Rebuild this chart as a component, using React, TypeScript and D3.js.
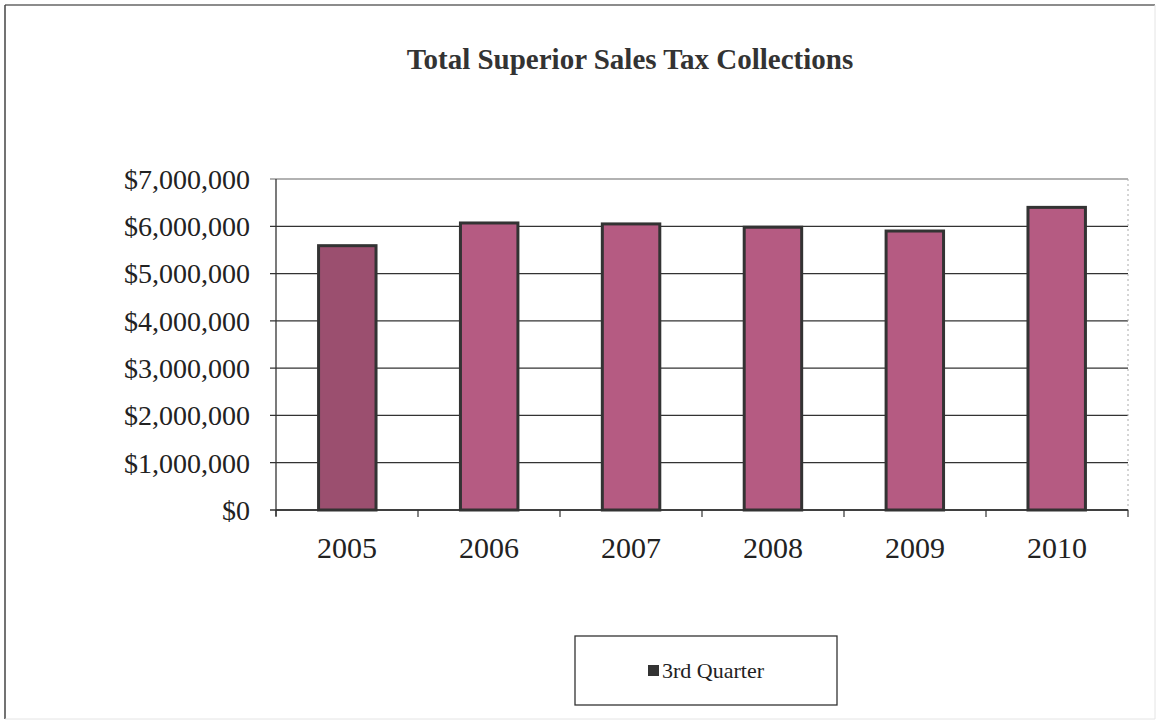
import React from "react";
import * as d3 from "d3";

const years = ["2005", "2006", "2007", "2008", "2009", "2010"];
const collections = [5590000, 6070000, 6050000, 5980000, 5900000, 6400000];
const yTicks = [0, 1000000, 2000000, 3000000, 4000000, 5000000, 6000000, 7000000];
const seriesName = "3rd Quarter";
const title = "Total Superior Sales Tax Collections";

const W = 1159;
const H = 721;
const plot = { left: 276, right: 1128, top: 179, bottom: 510 };

export default function App() {
  const x = d3
    .scaleBand<string>()
    .domain(years)
    .range([plot.left, plot.right])
    .paddingInner(0.595)
    .paddingOuter(0.3);
  const band = d3.scaleBand<string>().domain(years).range([plot.left, plot.right]);
  const y = d3.scaleLinear().domain([0, 7000000]).range([plot.bottom, plot.top]);
  const fmt = (v: number) => "$" + d3.format(",")(v);
  const font = "'Liberation Serif', 'Times New Roman', serif";

  return (
    <svg
      width={W}
      height={H}
      style={{ position: "absolute", left: 0, top: 0, background: "#fff" }}
      fontFamily={font}
    >
      <rect x={0} y={0} width={W} height={H} fill="#fff" />
      {/* outer frame */}
      <line x1={5} y1={5} x2={1155} y2={5} stroke="#666" strokeWidth={1.5} />
      <line x1={5} y1={5} x2={5} y2={719} stroke="#444" strokeWidth={1.5} />
      <line x1={1155} y1={5} x2={1155} y2={719} stroke="#e4e4e4" strokeWidth={1} />
      <line x1={5} y1={719} x2={1155} y2={719} stroke="#e4e4e4" strokeWidth={1} />

      <text x={630} y={69} textAnchor="middle" fontSize={29} fontWeight="bold" fill="#333">
        {title}
      </text>

      {/* gridlines */}
      {yTicks.map((t) => (
        <line
          key={"g" + t}
          x1={plot.left - 6}
          x2={plot.right}
          y1={y(t)}
          y2={y(t)}
          stroke={t === 7000000 ? "#999" : "#333"}
          strokeWidth={t === 7000000 ? 1.5 : 1.3}
        />
      ))}
      {/* right dotted border */}
      <line
        x1={plot.right}
        x2={plot.right}
        y1={plot.top}
        y2={plot.bottom}
        stroke="#aaa"
        strokeWidth={1}
        strokeDasharray="2,3"
      />
      {/* y axis */}
      <line x1={plot.left} x2={plot.left} y1={plot.top} y2={plot.bottom + 6} stroke="#333" strokeWidth={1.3} />
      {yTicks.map((t) => (
        <text
          key={"yl" + t}
          x={250}
          y={y(t)}
          dy="0.35em"
          textAnchor="end"
          fontSize={28}
          fill="#222"
        >
          {fmt(t)}
        </text>
      ))}

      {/* bars */}
      {years.map((yr, i) => (
        <rect
          key={yr}
          x={x(yr)!}
          y={y(collections[i])}
          width={x.bandwidth()}
          height={plot.bottom - y(collections[i])}
          fill={i === 0 ? "#9b4f6f" : "#b55b82"}
          stroke="#333"
          strokeWidth={3}
        />
      ))}

      {/* x axis */}
      <line x1={plot.left} x2={plot.right} y1={plot.bottom} y2={plot.bottom} stroke="#333" strokeWidth={1.5} />
      {[...years.map((yr) => band(yr)!), plot.right].map((bx, i) => (
        <line key={"xt" + i} x1={bx} x2={bx} y1={plot.bottom} y2={plot.bottom + 7} stroke="#333" strokeWidth={1.2} />
      ))}
      {years.map((yr) => (
        <text
          key={"xl" + yr}
          x={band(yr)! + band.bandwidth() / 2}
          y={558}
          textAnchor="middle"
          fontSize={30}
          fill="#222"
        >
          {yr}
        </text>
      ))}

      {/* legend */}
      <rect x={575} y={636} width={262} height={69} fill="#fff" stroke="#333" strokeWidth={1.3} />
      <rect x={648} y={665} width={11} height={11} fill="#333" />
      <text x={662} y={678} fontSize={22} fill="#222">
        {seriesName}
      </text>
    </svg>
  );
}
